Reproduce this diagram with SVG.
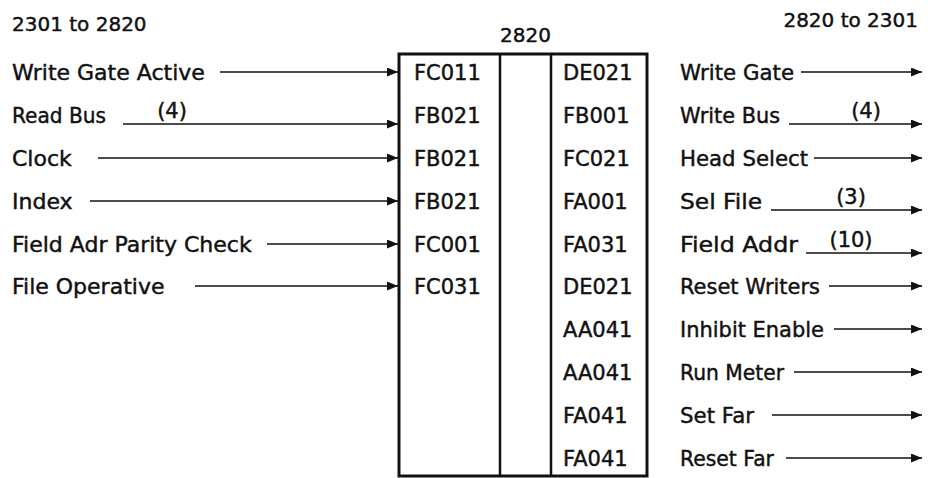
<svg xmlns="http://www.w3.org/2000/svg" width="928" height="478" viewBox="0 0 928 478">
<style>
text{font-family:"DejaVu Sans","Liberation Sans",sans-serif;fill:#111;stroke:#111;stroke-width:0.45}
.lbl{font-size:22px}
.code{font-size:21px}
.ttl{font-size:20px}
.cnt{font-size:21px;text-anchor:middle}
.box{fill:#fff;stroke:#111;stroke-width:3}
.div{stroke:#111;stroke-width:2.5}
.ar{stroke:#111;stroke-width:1.6;fill:none;marker-end:url(#ah)}
</style>
<defs>
<marker id="ah" markerUnits="userSpaceOnUse" markerWidth="12" markerHeight="10" refX="11" refY="4.5" orient="auto">
<path d="M0,0 L11,4.5 L0,9 Z" fill="#111"/>
</marker>
</defs>
<rect width="928" height="478" fill="#fff"/>
<g id="titles">
<text class="ttl" x="12" y="31">2301 to 2820</text>
<text class="ttl" x="918" y="27" text-anchor="end">2820 to 2301</text>
</g>
<g id="unit2820">
<text class="ttl" x="500" y="42">2820</text>
<rect class="box" x="399" y="54" width="248" height="422"/>
<line class="div" x1="500" y1="54" x2="500" y2="476"/>
<line class="div" x1="551" y1="54" x2="551" y2="476"/>
<text class="code" x="414" y="80">FC011</text>
<text class="code" x="414" y="123">FB021</text>
<text class="code" x="414" y="166">FB021</text>
<text class="code" x="414" y="209">FB021</text>
<text class="code" x="414" y="252">FC001</text>
<text class="code" x="414" y="294">FC031</text>
<text class="code" x="563" y="80">DE021</text>
<text class="code" x="563" y="123">FB001</text>
<text class="code" x="563" y="166">FC021</text>
<text class="code" x="563" y="209">FA001</text>
<text class="code" x="563" y="252">FA031</text>
<text class="code" x="563" y="294">DE021</text>
<text class="code" x="563" y="337">AA041</text>
<text class="code" x="563" y="380">AA041</text>
<text class="code" x="563" y="423">FA041</text>
<text class="code" x="563" y="466">FA041</text>
</g>
<g id="inputs">
<text class="lbl" x="12" y="80">Write Gate Active</text>
<text class="lbl" x="12" y="123" textLength="94" lengthAdjust="spacingAndGlyphs">Read Bus</text>
<text class="lbl" x="12" y="166">Clock</text>
<text class="lbl" x="12" y="209">Index</text>
<text class="lbl" x="12" y="252">Field Adr Parity Check</text>
<text class="lbl" x="12" y="294">File Operative</text>
<text class="cnt" x="172" y="118">(4)</text>
</g>
<g id="outputs">
<text class="lbl" x="680" y="80" textLength="114" lengthAdjust="spacingAndGlyphs">Write Gate</text>
<text class="lbl" x="680" y="123" textLength="100" lengthAdjust="spacingAndGlyphs">Write Bus</text>
<text class="lbl" x="680" y="166" textLength="128" lengthAdjust="spacingAndGlyphs">Head Select</text>
<text class="lbl" x="680" y="209" textLength="82" lengthAdjust="spacingAndGlyphs">Sel File</text>
<text class="lbl" x="680" y="252" textLength="118" lengthAdjust="spacingAndGlyphs">Field Addr</text>
<text class="lbl" x="680" y="294" textLength="140" lengthAdjust="spacingAndGlyphs">Reset Writers</text>
<text class="lbl" x="680" y="337" textLength="144" lengthAdjust="spacingAndGlyphs">Inhibit Enable</text>
<text class="lbl" x="680" y="380" textLength="104" lengthAdjust="spacingAndGlyphs">Run Meter</text>
<text class="lbl" x="680" y="423" textLength="74" lengthAdjust="spacingAndGlyphs">Set Far</text>
<text class="lbl" x="680" y="466" textLength="94" lengthAdjust="spacingAndGlyphs">Reset Far</text>
<text class="cnt" x="866" y="118">(4)</text>
<text class="cnt" x="851" y="204">(3)</text>
<text class="cnt" x="851" y="247">(10)</text>
</g>
<g id="connectors">
<line class="ar" x1="220" y1="72" x2="398" y2="72"/>
<line class="ar" x1="123" y1="124" x2="398" y2="124"/>
<line class="ar" x1="98" y1="158" x2="398" y2="158"/>
<line class="ar" x1="90" y1="201" x2="398" y2="201"/>
<line class="ar" x1="267" y1="244" x2="398" y2="244"/>
<line class="ar" x1="195" y1="286" x2="398" y2="286"/>
<line class="ar" x1="801" y1="72" x2="922" y2="72"/>
<line class="ar" x1="789" y1="124" x2="922" y2="124"/>
<line class="ar" x1="814" y1="158" x2="922" y2="158"/>
<line class="ar" x1="771" y1="210" x2="922" y2="210"/>
<line class="ar" x1="806" y1="253" x2="922" y2="253"/>
<line class="ar" x1="829" y1="286" x2="922" y2="286"/>
<line class="ar" x1="834" y1="329" x2="922" y2="329"/>
<line class="ar" x1="794" y1="372" x2="922" y2="372"/>
<line class="ar" x1="772" y1="415" x2="922" y2="415"/>
<line class="ar" x1="786" y1="458" x2="922" y2="458"/>
</g>
</svg>
